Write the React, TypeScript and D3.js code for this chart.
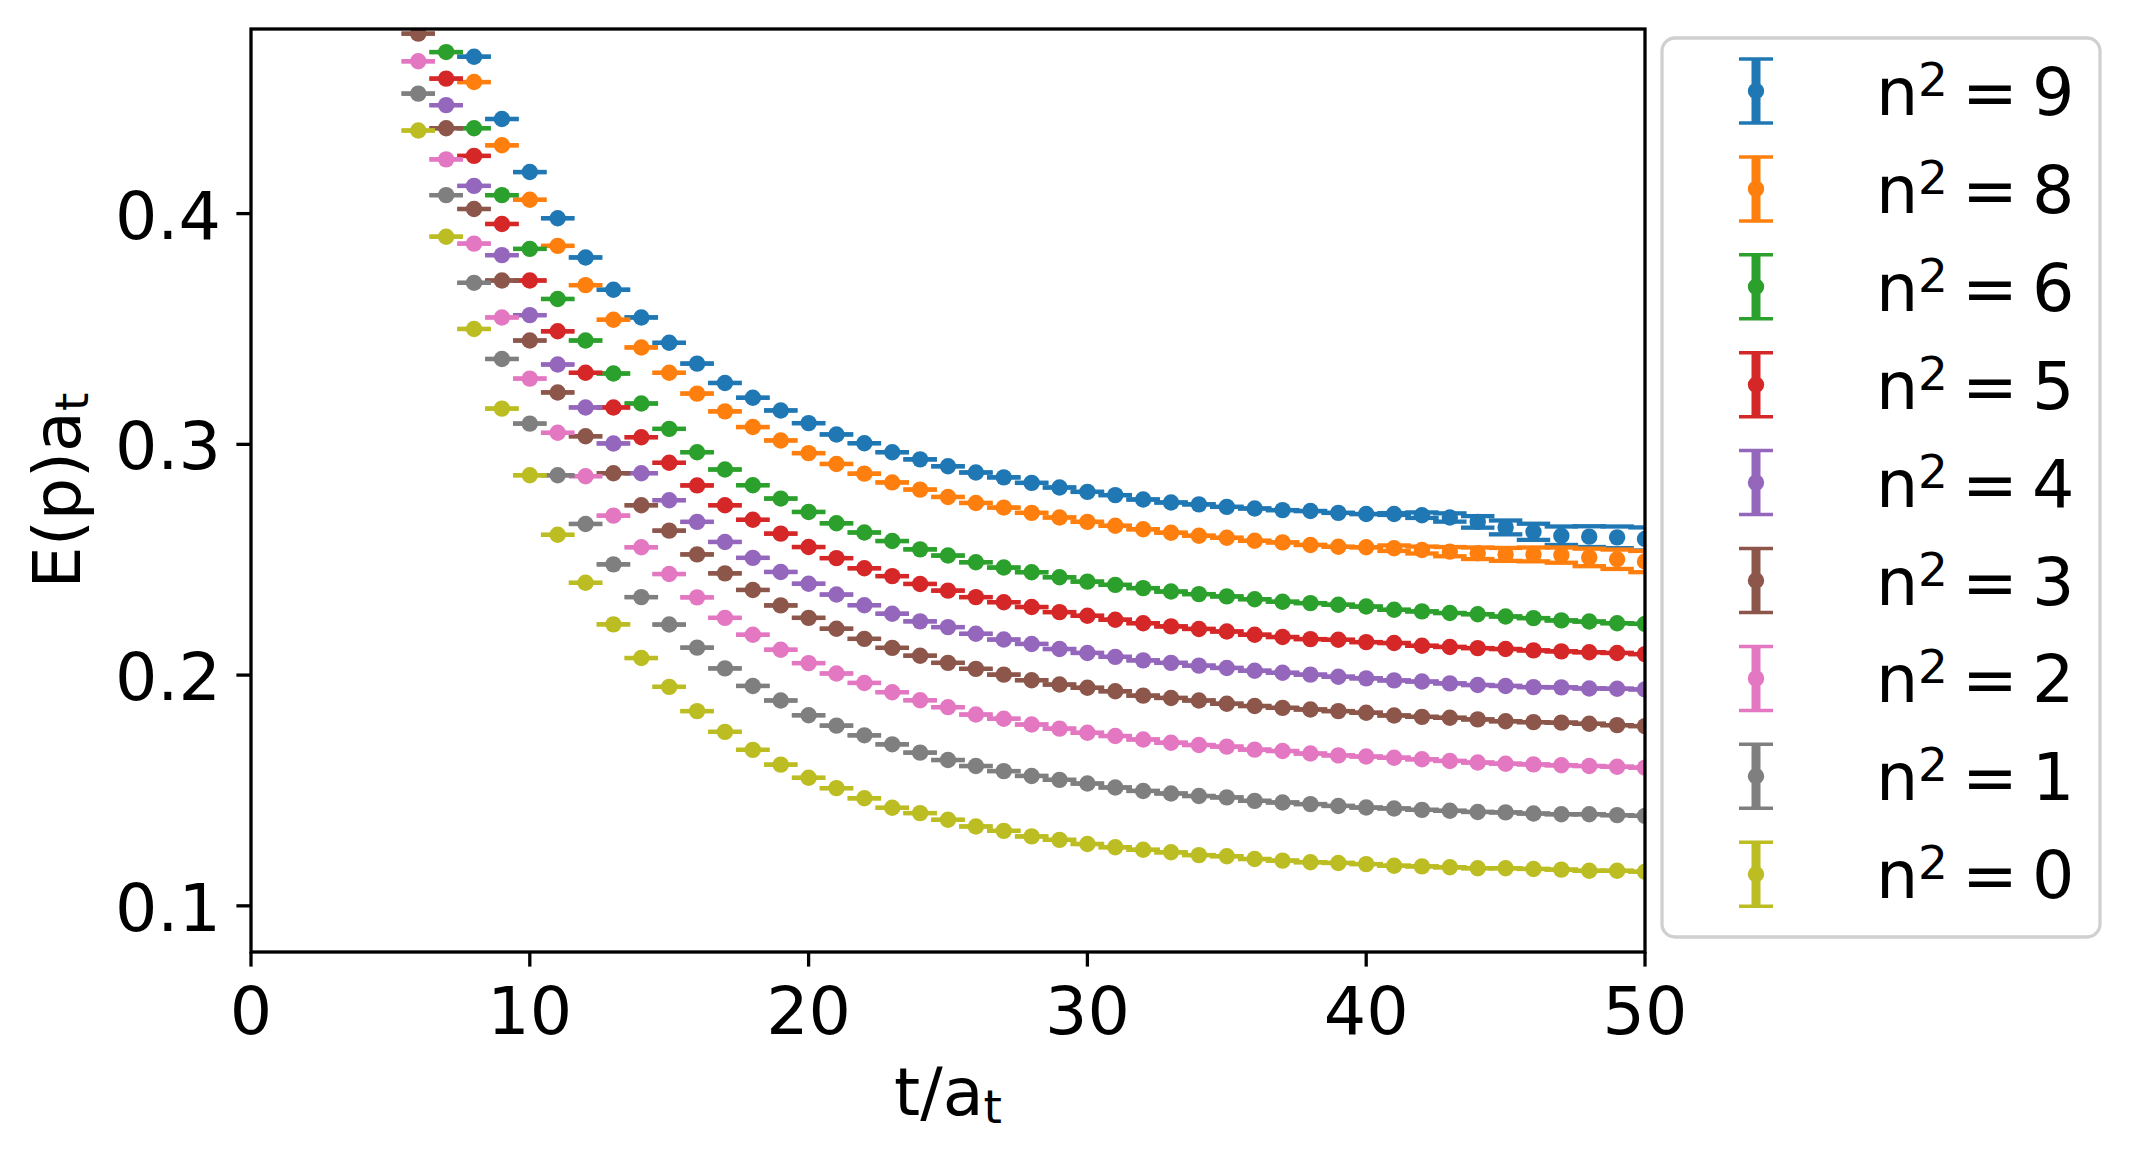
import React from 'react';
import * as d3 from 'd3';

// E(p)a_t vs t/a_t, one array per momentum n^2
const labels = ['9', '8', '6', '5', '4', '3', '2', '1', '0'];
const colors = ['#1f77b4', '#ff7f0e', '#2ca02c', '#d62728', '#9467bd', '#8c564b', '#e377c2', '#7f7f7f', '#bcbd22'];
const tStart = [8, 8, 7, 7, 7, 6, 6, 6, 6];

const n9 = [0.468, 0.441, 0.418, 0.398, 0.381, 0.367, 0.355, 0.344, 0.335, 0.3266, 0.3202, 0.3147, 0.3092, 0.3043, 0.3005, 0.2966, 0.2935, 0.2905, 0.2878, 0.2857, 0.2833, 0.2813, 0.2794, 0.278, 0.2761, 0.2748, 0.274, 0.2729, 0.2722, 0.2715, 0.2711, 0.2703, 0.2698, 0.2698, 0.2693, 0.2683, 0.2664, 0.264, 0.2621, 0.2604, 0.26, 0.2597, 0.259];
const n8 = [0.457, 0.4296, 0.406, 0.386, 0.369, 0.354, 0.342, 0.331, 0.322, 0.3143, 0.3075, 0.3017, 0.2962, 0.2915, 0.2873, 0.2835, 0.2804, 0.2772, 0.2746, 0.2726, 0.2703, 0.2683, 0.2664, 0.2647, 0.2632, 0.2617, 0.2604, 0.2595, 0.2582, 0.2575, 0.2564, 0.2556, 0.2554, 0.255, 0.2542, 0.2535, 0.2528, 0.2523, 0.2523, 0.252, 0.251, 0.2502, 0.2492];
const n6 = [0.47, 0.437, 0.408, 0.3847, 0.363, 0.345, 0.3307, 0.3177, 0.3067, 0.2966, 0.2891, 0.2823, 0.2765, 0.2707, 0.2658, 0.2618, 0.2581, 0.2545, 0.2518, 0.2489, 0.2466, 0.2446, 0.2424, 0.2405, 0.2391, 0.2377, 0.2362, 0.2351, 0.2341, 0.2329, 0.2318, 0.2312, 0.2305, 0.2297, 0.2283, 0.2276, 0.2269, 0.2264, 0.2254, 0.2247, 0.2237, 0.2232, 0.2225, 0.2222];
const n5 = [0.4585, 0.425, 0.3955, 0.371, 0.349, 0.331, 0.316, 0.3031, 0.292, 0.2822, 0.2736, 0.2673, 0.2613, 0.2555, 0.2507, 0.2463, 0.2429, 0.2395, 0.2366, 0.2338, 0.2316, 0.2295, 0.2273, 0.2257, 0.224, 0.2225, 0.2211, 0.22, 0.2189, 0.2175, 0.2165, 0.2156, 0.2153, 0.2143, 0.2139, 0.2127, 0.2122, 0.2117, 0.2113, 0.2107, 0.2103, 0.2099, 0.2096, 0.2091];
const n4 = [0.447, 0.412, 0.382, 0.356, 0.3346, 0.316, 0.3004, 0.2875, 0.2758, 0.2664, 0.2577, 0.2508, 0.2447, 0.2396, 0.2349, 0.2303, 0.2266, 0.2233, 0.2208, 0.2179, 0.2154, 0.2135, 0.2113, 0.2096, 0.2079, 0.2064, 0.2053, 0.2041, 0.2031, 0.2019, 0.201, 0.2002, 0.1993, 0.1986, 0.1977, 0.1972, 0.1964, 0.1957, 0.1953, 0.1948, 0.1947, 0.1942, 0.1941, 0.1938];
const n3 = [0.478, 0.437, 0.402, 0.371, 0.345, 0.3225, 0.3035, 0.2875, 0.2736, 0.2626, 0.2523, 0.2441, 0.2369, 0.2302, 0.2248, 0.2201, 0.2157, 0.2118, 0.2084, 0.2053, 0.2027, 0.2002, 0.1978, 0.1959, 0.1945, 0.193, 0.1911, 0.1901, 0.189, 0.1876, 0.1866, 0.1858, 0.1851, 0.1844, 0.1837, 0.1825, 0.1819, 0.1815, 0.1808, 0.18, 0.1796, 0.1794, 0.1789, 0.1783, 0.1779];
const n2 = [0.466, 0.4235, 0.387, 0.355, 0.3285, 0.305, 0.2862, 0.2691, 0.2554, 0.2438, 0.2337, 0.2248, 0.2175, 0.211, 0.2052, 0.2007, 0.1966, 0.1926, 0.1891, 0.1861, 0.1829, 0.1811, 0.1786, 0.1768, 0.175, 0.1736, 0.1721, 0.1707, 0.1697, 0.169, 0.1677, 0.1671, 0.166, 0.1652, 0.1647, 0.1642, 0.1635, 0.1628, 0.1621, 0.1616, 0.1613, 0.1609, 0.1606, 0.1603, 0.1599];
const n1 = [0.452, 0.408, 0.37, 0.337, 0.309, 0.2866, 0.2655, 0.248, 0.2338, 0.2219, 0.2119, 0.2029, 0.1953, 0.189, 0.1826, 0.1781, 0.1739, 0.17, 0.1664, 0.1632, 0.1606, 0.1584, 0.1563, 0.1546, 0.153, 0.1513, 0.1498, 0.1487, 0.1476, 0.147, 0.1455, 0.1448, 0.1441, 0.1433, 0.1426, 0.1422, 0.1416, 0.1412, 0.1407, 0.1405, 0.14, 0.1397, 0.1397, 0.1393, 0.139];
const n0 = [0.436, 0.39, 0.35, 0.3155, 0.2866, 0.2608, 0.24, 0.222, 0.2074, 0.1949, 0.1844, 0.1754, 0.1676, 0.1612, 0.1555, 0.151, 0.1466, 0.1425, 0.1402, 0.1373, 0.1344, 0.1325, 0.1301, 0.1286, 0.1268, 0.1254, 0.1243, 0.1232, 0.122, 0.1215, 0.1203, 0.1196, 0.1189, 0.1186, 0.1181, 0.1174, 0.1171, 0.1167, 0.1163, 0.1163, 0.116, 0.1157, 0.1152, 0.1152, 0.1148];

// fit band half-widths at large t (only visible for n^2 = 9 and 8)
const errTailT = [41, 42, 43, 44, 45, 46, 47, 48, 49, 50];
const errTail9 = [0.0004, 0.0012, 0.0018, 0.0025, 0.003, 0.0035, 0.004, 0.0045, 0.0047, 0.005];
const errTail8 = [0.0012, 0.0015, 0.002, 0.0025, 0.0028, 0.003, 0.0033, 0.0038, 0.0042, 0.0046];

const series = [n9, n8, n6, n5, n4, n3, n2, n1, n0];
const errTails = [errTail9, errTail8, null, null, null, null, null, null, null];

const xTicks = [0, 10, 20, 30, 40, 50];
const yTicks = [0.1, 0.2, 0.3, 0.4];

const W = 2129;
const H = 1157;
const M = { left: 251, right: 1645, top: 29, bottom: 952 };
const FS = 66.7;
const FONT = '"DejaVu Sans", sans-serif';

export default function App() {
  const x = d3.scaleLinear().domain([0, 50]).range([M.left, M.right]);
  const y = d3.scaleLinear().domain([0.08, 0.48]).range([M.bottom, M.top]);

  const barH = 4.3;
  const legX = 1662, legY = 38, legW = 438, legH = 899;
  const rowH = 97.9;

  return (
    <svg width={W} height={H} style={{ position: 'absolute', left: 0, top: 0, background: '#fff' }} fontFamily={FONT}>
      <defs>
        <clipPath id="plot-clip">
          <rect x={M.left} y={M.top} width={M.right - M.left} height={M.bottom - M.top} />
        </clipPath>
      </defs>
      <rect x={0} y={0} width={W} height={H} fill="#fff" />

      <g clipPath="url(#plot-clip)">
        {series.map((vals, si) => {
          const tail = errTails[si];
          return (
            <g key={si}>
              {vals.map((v, i) => {
                const t = tStart[si] + i;
                const k = errTailT.indexOf(t);
                const e = tail && k >= 0 ? tail[k] : 0;
                const x0 = x(t - 0.6), x1 = x(t + 0.6);
                return (
                  <g key={i}>
                    <rect x={x0} y={y(v + e) - barH / 2} width={x1 - x0} height={barH} fill={colors[si]} />
                    <rect x={x0} y={y(v - e) - barH / 2} width={x1 - x0} height={barH} fill={colors[si]} />
                  </g>
                );
              })}
              {vals.map((v, i) => (
                <circle key={'c' + i} cx={x(tStart[si] + i)} cy={y(v)} r={8.2} fill={colors[si]} />
              ))}
            </g>
          );
        })}
      </g>

      {/* axes frame */}
      <rect x={M.left} y={M.top} width={M.right - M.left} height={M.bottom - M.top} fill="none" stroke="#000" strokeWidth={3.3} />

      {/* x ticks */}
      {xTicks.map((t) => (
        <g key={'x' + t}>
          <line x1={x(t)} x2={x(t)} y1={M.bottom} y2={M.bottom + 14.6} stroke="#000" strokeWidth={3.3} />
          <text x={x(t)} y={1034} fontSize={FS} textAnchor="middle" fill="#000">{t}</text>
        </g>
      ))}
      {/* y ticks */}
      {yTicks.map((v) => (
        <g key={'y' + v}>
          <line x1={M.left - 14.6} x2={M.left} y1={y(v)} y2={y(v)} stroke="#000" strokeWidth={3.3} />
          <text x={221} y={y(v) + 25} fontSize={FS} textAnchor="end" fill="#000">{v.toFixed(1)}</text>
        </g>
      ))}

      {/* axis labels */}
      <text x={(M.left + M.right) / 2} y={1115} fontSize={FS} textAnchor="middle" fill="#000">
        t/a<tspan fontSize={47} dy={8}>t</tspan>
      </text>
      <text transform={`translate(80, ${(M.top + M.bottom) / 2}) rotate(-90)`} fontSize={FS} textAnchor="middle" fill="#000">
        E(p)a<tspan fontSize={47} dy={8}>t</tspan>
      </text>

      {/* legend */}
      <rect x={legX} y={legY} width={legW} height={legH} rx={13} fill="#fff" fillOpacity={0.8} stroke="#d0d0d0" strokeWidth={3.3} />
      {labels.map((lab, i) => {
        const cy = 91 + i * rowH;
        const cx = 1756;
        return (
          <g key={'l' + i}>
            <line x1={cx} x2={cx} y1={cy - 33} y2={cy + 33} stroke={colors[i]} strokeWidth={9} />
            <line x1={cx - 17} x2={cx + 17} y1={cy - 32} y2={cy - 32} stroke={colors[i]} strokeWidth={3.5} />
            <line x1={cx - 17} x2={cx + 17} y1={cy + 32} y2={cy + 32} stroke={colors[i]} strokeWidth={3.5} />
            <circle cx={cx} cy={cy} r={8.2} fill={colors[i]} />
            <text x={1876} y={cy + 24} fontSize={FS} fill="#000">n</text>
            <text x={1918} y={cy + 5} fontSize={47} fill="#000">2</text>
            <text x={1962} y={cy + 24} fontSize={FS} fill="#000">=</text>
            <text x={2032} y={cy + 24} fontSize={FS} fill="#000">{lab}</text>
          </g>
        );
      })}
    </svg>
  );
}
